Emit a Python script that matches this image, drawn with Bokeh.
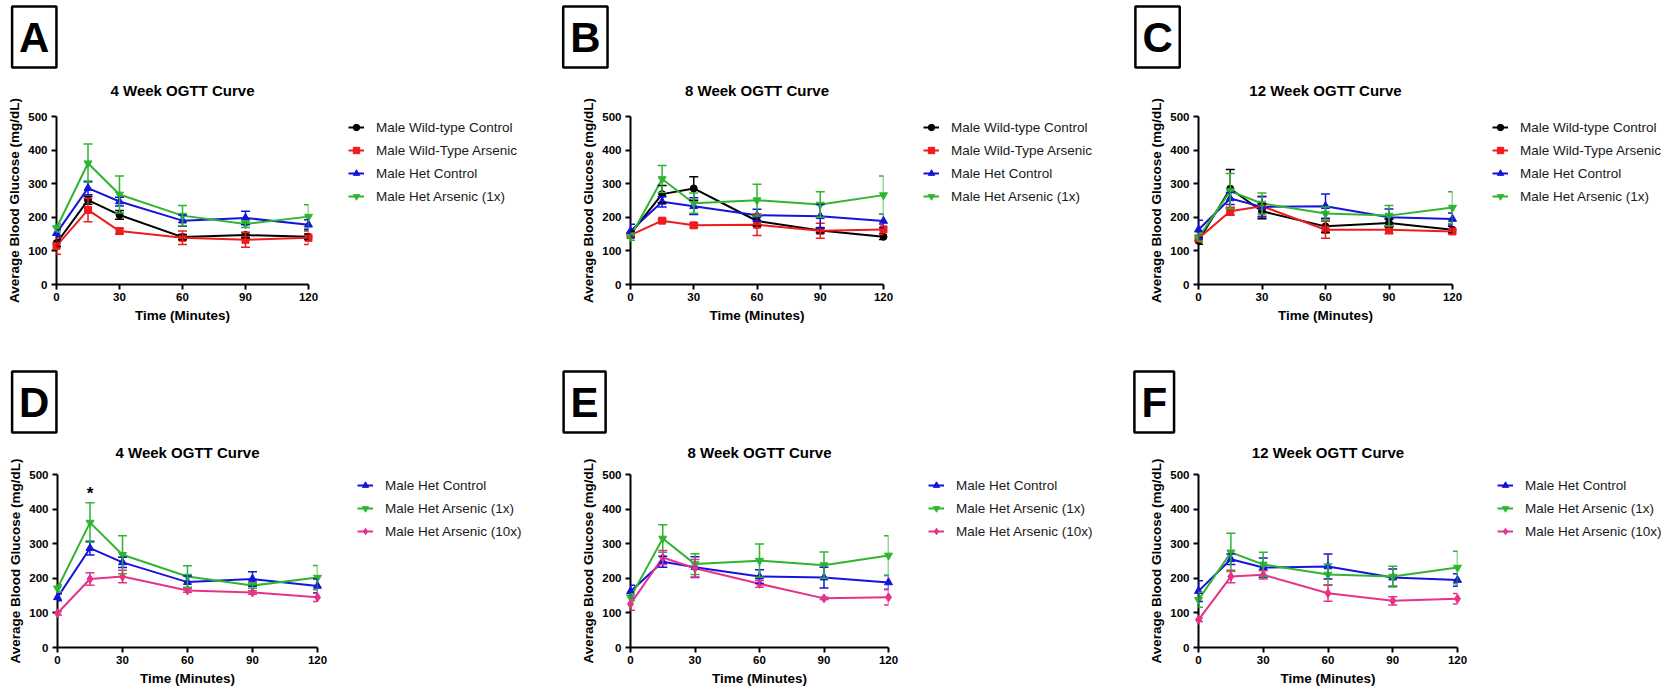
from bokeh.plotting import figure
from bokeh.layouts import column, row
from bokeh.models import (Range1d, FixedTicker, Legend, LegendItem, Title,
                          Whisker, TeeHead, ColumnDataSource)
from bokeh.core.properties import value
from bokeh.embed import file_html
from bokeh.resources import INLINE

FONT = "Liberation Sans"

times = [0, 15, 30, 60, 90, 120]
x_ticks = [0, 30, 60, 90, 120]
y_ticks = [0, 100, 200, 300, 400, 500]

names = ["Male Wild-type Control", "Male Wild-Type Arsenic", "Male Het Control",
         "Male Het Arsenic (1x)", "Male Het Arsenic (10x)"]

# ---- Panel A: 4 week (all four groups)
a_wt_ctrl = [123, 251, 207, 141, 147, 142]
a_wt_ctrl_err = [10, 12, 13, 8, 8, 8]
a_wt_ars = [115, 222, 159, 139, 133, 139]
a_wt_ars_err = [25, 35, 8, 20, 22, 20]
a_het_ctrl = [153, 287, 247, 190, 198, 178]
a_het_ctrl_err = [10, 20, 13, 17, 20, 15]
a_het_1x = [168, 361, 268, 205, 180, 202]
a_het_1x_err = [12, 57, 55, 30, 10, 35]

# ---- Panel B: 8 week
b_wt_ctrl = [151, 269, 286, 189, 161, 142]
b_wt_ctrl_err = [8, 26, 35, 15, 8, 8]
b_wt_ars = [147, 190, 176, 178, 160, 164]
b_wt_ars_err = [6, 5, 6, 32, 22, 15]
b_het_ctrl = [159, 246, 233, 206, 203, 189]
b_het_ctrl_err = [20, 15, 25, 18, 35, 20]
b_het_1x = [142, 314, 242, 251, 238, 266]
b_het_1x_err = [10, 40, 30, 47, 38, 57]

# ---- Panel C: 12 week
c_wt_ctrl = [130, 285, 218, 173, 183, 163]
c_wt_ctrl_err = [10, 57, 22, 18, 12, 10]
c_wt_ars = [137, 218, 233, 163, 163, 158]
c_wt_ars_err = [10, 12, 30, 25, 12, 8]
c_het_ctrl = [163, 256, 231, 233, 200, 195]
c_het_ctrl_err = [28, 18, 30, 36, 25, 18]
c_het_1x = [140, 278, 241, 211, 205, 229]
c_het_1x_err = [12, 52, 31, 20, 30, 47]

# ---- Panel D: 4 week (Het groups)
d_het_ctrl = [145, 287, 246, 189, 198, 178]
d_het_ctrl_err = [10, 20, 15, 18, 21, 20]
d_het_1x = [171, 361, 268, 205, 179, 202]
d_het_1x_err = [10, 57, 55, 31, 8, 35]
d_het_10x = [99, 198, 205, 165, 159, 145]
d_het_10x_err = [5, 18, 18, 5, 5, 12]
d_star_x = [15]
d_star_y = [445]

# ---- Panel E: 8 week
e_het_ctrl = [162, 248, 232, 205, 202, 188]
e_het_ctrl_err = [18, 16, 30, 20, 30, 20]
e_het_1x = [145, 315, 241, 251, 238, 266]
e_het_1x_err = [10, 40, 30, 48, 38, 57]
e_het_10x = [126, 260, 229, 184, 142, 145]
e_het_10x_err = [18, 20, 25, 10, 3, 22]

# ---- Panel F: 12 week
f_het_ctrl = [163, 255, 231, 234, 202, 195]
f_het_ctrl_err = [30, 15, 28, 36, 25, 18]
f_het_1x = [138, 275, 240, 211, 205, 231]
f_het_1x_err = [22, 55, 35, 30, 30, 47]
f_het_10x = [80, 205, 210, 157, 135, 141]
f_het_10x_err = [5, 18, 12, 23, 12, 15]

STYLE = {
    names[0]: ("#000000", "circle", 7),
    names[1]: ("#ee1c1c", "square", 7),
    names[2]: ("#1414dc", "triangle", 8),
    names[3]: ("#2fb52f", "inverted_triangle", 8),
    names[4]: ("#e6338a", "diamond", 9),
}


def make_panel(letter, title, series, fw, fh, bl, bt, bb, leg_w,
               box_off, title_standoff, leg_vy, star=None):
    H = bt + fh + bb
    p = figure(frame_width=fw, frame_height=fh, min_border_left=bl,
               min_border_right=12, min_border_top=bt, min_border_bottom=bb,
               x_range=Range1d(0, 120), y_range=Range1d(0, 500),
               output_backend="svg", toolbar_location=None,
               background_fill_color="white", border_fill_color="white")
    p.outline_line_color = None
    p.xgrid.grid_line_color = None
    p.ygrid.grid_line_color = None
    p.xaxis.ticker = FixedTicker(ticks=x_ticks)
    p.yaxis.ticker = FixedTicker(ticks=y_ticks)
    p.xaxis.axis_label = "Time (Minutes)"
    p.yaxis.axis_label = "Average Blood Glucose (mg/dL)"
    for ax in (p.xaxis[0], p.yaxis[0]):
        ax.axis_line_width = 2
        ax.axis_line_color = "black"
        ax.major_tick_line_width = 2
        ax.major_tick_line_color = "black"
        ax.major_tick_out = 5
        ax.major_tick_in = 0
        ax.minor_tick_line_color = None
        ax.major_label_text_font = FONT
        ax.major_label_text_font_style = "bold"
        ax.major_label_text_font_size = "11.5px"
        ax.major_label_text_color = "black"
        ax.axis_label_text_font = FONT
        ax.axis_label_text_font_style = "bold"
        ax.axis_label_text_font_size = "13.5px"
        ax.axis_label_text_color = "black"
    p.xaxis.major_label_standoff = 3
    p.yaxis.major_label_standoff = 4
    p.xaxis.axis_label_standoff = 4
    p.yaxis.axis_label_standoff = 3

    # panel letter in a box (outermost title)
    p.title.text = letter
    p.title.align = "left"
    p.title.offset = box_off
    p.title.standoff = 0
    p.title.text_font = FONT
    p.title.text_font_size = "42px"
    p.title.text_font_style = "bold"
    p.title.text_color = "black"
    p.title.border_line_color = "black"
    p.title.border_line_width = 2.5
    p.title.background_fill_color = "white"
    p.title.padding = 7

    # chart title (closest to the frame)
    t = Title(text=title, align="center", vertical_align="top",
              standoff=title_standoff, text_font=FONT, text_font_size="15px",
              text_font_style="bold", text_color="black")
    p.add_layout(t, "above")

    # legend area: its own plot, ranges far away from the data so that the
    # key renderers only show up as legend swatches
    lg = figure(width=leg_w, height=H, x_range=Range1d(-1000, -999),
                y_range=Range1d(-1000, -999),
                x_axis_type=None, y_axis_type=None, min_border=0,
                output_backend="svg", toolbar_location=None,
                background_fill_color="white", border_fill_color="white")
    lg.outline_line_color = None
    lg.xgrid.grid_line_color = None
    lg.ygrid.grid_line_color = None

    items = []
    for name, vals, errs in series:
        color, marker, size = STYLE[name]
        src = ColumnDataSource(dict(
            x=times, y=vals,
            lo=[v - e for v, e in zip(vals, errs)],
            hi=[v + e for v, e in zip(vals, errs)]))
        w = Whisker(source=src, base="x", upper="hi", lower="lo",
                    dimension="height", line_color=color, line_width=1.5,
                    level="overlay",
                    upper_head=TeeHead(size=9, line_color=color, line_width=1.5),
                    lower_head=TeeHead(size=9, line_color=color, line_width=1.5))
        p.add_layout(w)
        p.line("x", "y", source=src, line_color=color, line_width=2)
        p.scatter("x", "y", source=src, marker=marker, size=size,
                  fill_color=color, line_color=color, level="overlay")
        # legend key renderers
        lr = lg.line("x", "y", source=src, line_color=color, line_width=2)
        sr = lg.scatter("x", "y", source=src, marker=marker, size=size,
                        fill_color=color, line_color=color)
        items.append(LegendItem(label=name, renderers=[lr, sr]))

    if star is not None:
        p.text(x=star[0], y=star[1], text=["*"], text_font=value(FONT),
               text_font_size="17px", text_font_style="bold",
               text_align="center", text_baseline="middle", text_color="black")

    leg = Legend(items=items, location=(28, leg_vy), orientation="vertical",
                 glyph_width=16, glyph_height=20, label_height=20,
                 label_standoff=12, spacing=3, padding=0, margin=0,
                 border_line_alpha=0, background_fill_alpha=0,
                 label_text_font=FONT, label_text_font_size="13.5px",
                 label_text_color="#1a1a1a")
    lg.add_layout(leg)
    return row(p, lg, spacing=0)


four = [names[0], names[1], names[2], names[3]]
three = [names[2], names[3], names[4]]

# row 1: height 345, frame top 116; row 2: height 348, frame top 129 (page 474)
pA = make_panel("A", "4 Week OGTT Curve",
                list(zip(four, [a_wt_ctrl, a_wt_ars, a_het_ctrl, a_het_1x],
                         [a_wt_ctrl_err, a_wt_ars_err, a_het_ctrl_err, a_het_1x_err])),
                252, 168, 56, 116, 61, 210, -44.4, 29.5, 78)
pB = make_panel("B", "8 Week OGTT Curve",
                list(zip(four, [b_wt_ctrl, b_wt_ars, b_het_ctrl, b_het_1x],
                         [b_wt_ctrl_err, b_wt_ars_err, b_het_ctrl_err, b_het_1x_err])),
                253, 168, 100, 116, 61, 225, -67.3, 29.5, 78)
pC = make_panel("C", "12 Week OGTT Curve",
                list(zip(four, [c_wt_ctrl, c_wt_ars, c_het_ctrl, c_het_1x],
                         [c_wt_ctrl_err, c_wt_ars_err, c_het_ctrl_err, c_het_1x_err])),
                254, 168, 78, 116, 61, 211, -63.1, 29.5, 78)
pD = make_panel("D", "4 Week OGTT Curve",
                list(zip(three, [d_het_ctrl, d_het_1x, d_het_10x],
                         [d_het_ctrl_err, d_het_1x_err, d_het_10x_err])),
                260, 173, 57, 129, 46, 201, -45.4, 23, 106,
                star=(d_star_x, d_star_y))
pE = make_panel("E", "8 Week OGTT Curve",
                list(zip(three, [e_het_ctrl, e_het_1x, e_het_10x],
                         [e_het_ctrl_err, e_het_1x_err, e_het_10x_err])),
                258, 173, 100, 129, 46, 220, -66.9, 23, 106)
pF = make_panel("F", "12 Week OGTT Curve",
                list(zip(three, [f_het_ctrl, f_het_1x, f_het_10x],
                         [f_het_ctrl_err, f_het_1x_err, f_het_10x_err])),
                259, 173, 78, 129, 46, 206, -64.1, 23, 106)

layout = column(row(pA, pB, pC, spacing=0), row(pD, pE, pF, spacing=0), spacing=0)
open("out.html", "w").write(file_html(layout, INLINE))
